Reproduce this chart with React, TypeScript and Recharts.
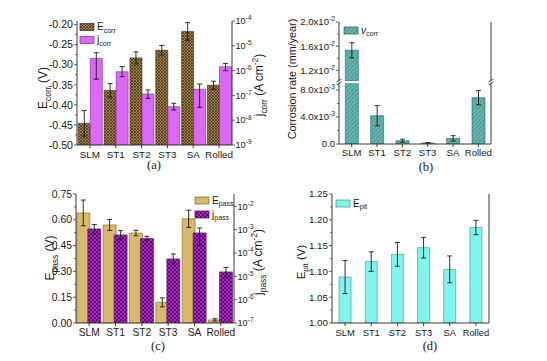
import React from 'react';
import { ComposedChart, Bar, XAxis, YAxis, ErrorBar } from 'recharts';

const SANS = '"Liberation Sans", Arial, Helvetica, sans-serif';
const SERIF = '"Liberation Serif", "Times New Roman", Times, serif';
const INK = '#1a1a1a';
const FRAME = '#383838';
const ERR = '#1a1a1a';

// ---------------- data ----------------
const categories = ['SLM', 'ST1', 'ST2', 'ST3', 'SA', 'Rolled'];

// (a) corrosion potential (V) and corrosion current density (A cm^-2)
const ecorr = [-0.446, -0.364, -0.283, -0.264, -0.217, -0.351];
const ecorrErr = [0.032, 0.017, 0.015, 0.012, 0.022, 0.01];
const jcorr = [3.1e-6, 9.0e-7, 1.14e-7, 3.5e-8, 1.76e-7, 1.44e-6];
const jcorrErrLow = [2.65e-6, 3.3e-7, 3.8e-8, 9.2e-9, 1.43e-7, 4.5e-7];
const jcorrErrHigh = [2.15e-6, 5.4e-7, 5.1e-8, 1.3e-8, 1.12e-7, 5.1e-7];

// (b) corrosion rate (mm/year)
const vcorr = [1.533e-2, 4.19e-3, 4.9e-4, 1.5e-4, 8.3e-4, 6.86e-3];
const vcorrErr = [1.25e-3, 1.5e-3, 2.2e-4, 5e-5, 4e-4, 1.05e-3];

// (c) passivation potential (V) and passivation current density (A cm^-2)
const epass = [0.64, 0.57, 0.523, 0.12, 0.606, 0.018];
const epassErr = [0.075, 0.032, 0.016, 0.026, 0.05, 0.007];
const jpass = [1.08e-3, 6.0e-4, 4.15e-4, 5.6e-5, 7.3e-4, 1.55e-5];
const jpassErrLow = [4.2e-4, 2.35e-4, 7.5e-5, 2.2e-5, 5.2e-4, 6.4e-6];
const jpassErrHigh = [5.8e-4, 3.15e-4, 1.05e-4, 3.5e-5, 4.6e-4, 8.8e-6];

// (d) pitting potential (V)
const epit = [1.089, 1.119, 1.133, 1.146, 1.104, 1.185];
const epitErr = [0.032, 0.019, 0.023, 0.02, 0.026, 0.014];

// ---------------- ticks / ranges ----------------
const ecorrTicks = [-0.5, -0.45, -0.4, -0.35, -0.3, -0.25, -0.2];
const jcorrTicks = [1e-9, 1e-8, 1e-7, 1e-6, 1e-5, 1e-4];
const vcorrLowTicks = [0, 4e-3, 8e-3];
const vcorrHighTicks = [1.2e-2, 1.6e-2, 2.0e-2];
const epassTicks = [0, 0.15, 0.3, 0.45, 0.6, 0.75];
const jpassTicks = [1e-7, 1e-6, 1e-5, 1e-4, 1e-3, 1e-2];
const epitTicks = [1.0, 1.05, 1.1, 1.15, 1.2, 1.25];

const ECORR_RANGE: [number, number] = [-0.5, -0.191];
const JCORR_RANGE: [number, number] = [1e-9, 1e-4];
const VCORR_LOW_RANGE: [number, number] = [0, 9.04e-3];
const VCORR_HIGH_RANGE: [number, number] = [1.025e-2, 2.0e-2];
const EPASS_RANGE: [number, number] = [0, 0.75];
const JPASS_RANGE: [number, number] = [1e-7, 3.4e-2];
const EPIT_RANGE: [number, number] = [1.0, 1.25];

const TICK_LEN = 3;
const TICK_GAP = 1;

const mid = (t: number[]) => t.slice(1).map((v, i) => (v + t[i]) / 2);
const withMinor = (t: number[]) => [...t, ...mid(t)].sort((a, b) => a - b);
const isIn = (arr: number[], v: number) =>
  arr.some((m) => Math.abs(m - v) <= 1e-12 + Math.abs(m) * 1e-6);

type Fmt = (v: number, size: number) => React.ReactNode;
const fixed2: Fmt = (v) => v.toFixed(2);
const pow10: Fmt = (v, s) => (
  <>
    10
    <tspan fontSize={s * 0.7} dy={-s * 0.42}>
      {Math.round(Math.log10(v))}
    </tspan>
  </>
);
const sci: Fmt = (v, s) => {
  if (v === 0) return '0.0';
  const e = Math.floor(Math.log10(v) + 1e-9);
  const m = v / Math.pow(10, e);
  return (
    <>
      {m.toFixed(1)}x10
      <tspan fontSize={s * 0.7} dy={-s * 0.42}>
        {e}
      </tspan>
    </>
  );
};

function yTick(side: 'left' | 'right', major: number[], fmt: Fmt, size: number, gap: number = TICK_GAP) {
  return (props: any) => {
    const { x, y, payload } = props;
    const v = Number(payload.value);
    const maj = isIn(major, v);
    const sgn = side === 'left' ? 1 : -1;
    const ax = x + sgn * (TICK_LEN + gap);
    const len = maj ? TICK_LEN : TICK_LEN * 0.6;
    return (
      <g>
        <line x1={ax} y1={y} x2={ax - sgn * len} y2={y} stroke={FRAME} strokeWidth={0.8} />
        {maj ? (
          <text
            x={x}
            y={y}
            dy={size * 0.35}
            textAnchor={side === 'left' ? 'end' : 'start'}
            fontSize={size}
            fontFamily={SANS}
            fill={INK}
          >
            {fmt(v, size)}
          </text>
        ) : null}
      </g>
    );
  };
}

const axisLine = { stroke: FRAME, strokeWidth: 1 };
const xTickStyle = (s: number) => ({ fontSize: s, fontFamily: SANS, fill: INK });

// ---------------- panels ----------------
function PanelA() {
  const data = categories.map((cat, i) => ({
    cat,
    ecorr: [ECORR_RANGE[0], ecorr[i]],
    ecorrErr: ecorrErr[i],
    jcorr: jcorr[i],
    jcorrErr: [jcorrErrLow[i], jcorrErrHigh[i]],
  }));
  return (
    <div style={{ position: 'absolute', left: 0, top: 0 }}>
      <ComposedChart width={270} height={180} data={data} margin={{ top: 21, right: 0, bottom: 0, left: 0 }} barCategoryGap="5%" barGap={0}>
        <XAxis xAxisId="x" dataKey="cat" height={35} interval={0} tickSize={3} tickMargin={3} axisLine={axisLine} tickLine={{ stroke: FRAME }} tick={xTickStyle(9.9)} />
        <XAxis xAxisId="t" dataKey="cat" orientation="top" height={0} tick={false} tickLine={false} axisLine={axisLine} />
        <YAxis yAxisId="l" type="number" width={77} domain={ECORR_RANGE} allowDataOverflow ticks={withMinor(ecorrTicks)} interval={0} tickSize={TICK_LEN} tickMargin={TICK_GAP} tickLine={false} axisLine={axisLine} tick={yTick('left', ecorrTicks, fixed2, 10.6)} />
        <YAxis yAxisId="r" orientation="right" type="number" scale="log" width={38} domain={JCORR_RANGE} allowDataOverflow ticks={jcorrTicks} interval={0} tickSize={TICK_LEN} tickMargin={0.5} tickLine={false} axisLine={axisLine} tick={yTick('right', jcorrTicks, pow10, 9.2, 0.5)} />
        <Bar xAxisId="x" yAxisId="l" dataKey="ecorr" fill="url(#pat-brown)" stroke="#3a2a10" strokeWidth={0.6} isAnimationActive={false}>
          <ErrorBar dataKey="ecorrErr" width={2.5} stroke={ERR} strokeWidth={0.9} isAnimationActive={false} />
        </Bar>
        <Bar xAxisId="x" yAxisId="r" dataKey="jcorr" fill="#db69f5" stroke="#7a2a8a" strokeWidth={0.6} isAnimationActive={false}>
          <ErrorBar dataKey="jcorrErr" width={2.5} stroke={ERR} strokeWidth={0.9} isAnimationActive={false} />
        </Bar>
      </ComposedChart>
    </div>
  );
}

function PanelB() {
  const upper = categories.map((cat, i) => ({
    cat,
    v: vcorr[i] > VCORR_HIGH_RANGE[0] ? vcorr[i] : null,
    err: vcorr[i] > VCORR_HIGH_RANGE[0] ? vcorrErr[i] : null,
  }));
  const lower = categories.map((cat, i) => ({
    cat,
    v: vcorr[i],
    err: vcorr[i] <= VCORR_LOW_RANGE[1] ? vcorrErr[i] : null,
  }));
  const barProps = { fill: 'url(#pat-teal)', stroke: '#2a5f5a', strokeWidth: 0.6 };
  return (
    <>
      <div style={{ position: 'absolute', left: 270, top: 0 }}>
        <ComposedChart width={277} height={81} data={upper} margin={{ top: 22, right: 0, bottom: 0, left: 0 }} barCategoryGap="25%">
          <XAxis xAxisId="x" dataKey="cat" orientation="top" height={0} tick={false} tickLine={false} axisLine={axisLine} />
          <YAxis yAxisId="l" type="number" width={69} domain={VCORR_HIGH_RANGE} allowDataOverflow ticks={[...vcorrHighTicks, ...mid(vcorrHighTicks)].sort((a, b) => a - b)} interval={0} tickSize={TICK_LEN} tickMargin={TICK_GAP} tickLine={false} axisLine={axisLine} tick={yTick('left', vcorrHighTicks, sci, 9.6)} />
          <YAxis yAxisId="rf" orientation="right" type="number" width={56} domain={[0, 1]} tick={false} tickLine={false} axisLine={axisLine} />
          <Bar xAxisId="x" yAxisId="l" dataKey="v" {...barProps} isAnimationActive={false}>
            <ErrorBar dataKey="err" width={2.5} stroke={ERR} strokeWidth={0.9} isAnimationActive={false} />
          </Bar>
        </ComposedChart>
      </div>
      <div style={{ position: 'absolute', left: 270, top: 83 }}>
        <ComposedChart width={277} height={97} data={lower} margin={{ top: 0, right: 0, bottom: 0, left: 0 }} barCategoryGap="25%">
          <XAxis xAxisId="x" dataKey="cat" height={36} interval={0} tickSize={3} tickMargin={2} axisLine={axisLine} tickLine={{ stroke: FRAME }} tick={xTickStyle(9.6)} />
          <YAxis yAxisId="l" type="number" width={69} domain={VCORR_LOW_RANGE} allowDataOverflow ticks={withMinor(vcorrLowTicks)} interval={0} tickSize={TICK_LEN} tickMargin={TICK_GAP} tickLine={false} axisLine={axisLine} tick={yTick('left', vcorrLowTicks, sci, 9.6)} />
          <YAxis yAxisId="rf" orientation="right" type="number" width={56} domain={[0, 1]} tick={false} tickLine={false} axisLine={axisLine} />
          <Bar xAxisId="x" yAxisId="l" dataKey="v" {...barProps} isAnimationActive={false}>
            <ErrorBar dataKey="err" width={2.5} stroke={ERR} strokeWidth={0.9} isAnimationActive={false} />
          </Bar>
        </ComposedChart>
      </div>
    </>
  );
}

function PanelC() {
  const data = categories.map((cat, i) => ({
    cat,
    epass: epass[i],
    epassErr: epassErr[i],
    jpass: jpass[i],
    jpassErr: [jpassErrLow[i], jpassErrHigh[i]],
  }));
  return (
    <div style={{ position: 'absolute', left: 0, top: 175 }}>
      <ComposedChart width={270} height={186} data={data} margin={{ top: 19, right: 0, bottom: 0, left: 0 }} barCategoryGap="3%" barGap={-2}>
        <XAxis xAxisId="x" dataKey="cat" height={38} interval={0} tickSize={3} tickMargin={3} axisLine={axisLine} tickLine={{ stroke: FRAME }} tick={xTickStyle(10.2)} />
        <XAxis xAxisId="t" dataKey="cat" orientation="top" height={0} tick={false} tickLine={false} axisLine={axisLine} />
        <YAxis yAxisId="l" type="number" width={76} domain={EPASS_RANGE} allowDataOverflow ticks={withMinor(epassTicks)} interval={0} tickSize={TICK_LEN} tickMargin={TICK_GAP} tickLine={false} axisLine={axisLine} tick={yTick('left', epassTicks, fixed2, 10.4)} />
        <YAxis yAxisId="r" orientation="right" type="number" scale="log" width={36} domain={JPASS_RANGE} allowDataOverflow ticks={jpassTicks} interval={0} tickSize={TICK_LEN} tickMargin={0.5} tickLine={false} axisLine={axisLine} tick={yTick('right', jpassTicks, pow10, 9.2, 0.5)} />
        <Bar xAxisId="x" yAxisId="l" dataKey="epass" fill="#d8bb6a" stroke="#7a6428" strokeWidth={0.6} isAnimationActive={false}>
          <ErrorBar dataKey="epassErr" width={2.5} stroke={ERR} strokeWidth={0.9} isAnimationActive={false} />
        </Bar>
        <Bar xAxisId="x" yAxisId="r" dataKey="jpass" fill="url(#pat-purple)" stroke="#4a0a5a" strokeWidth={0.6} isAnimationActive={false}>
          <ErrorBar dataKey="jpassErr" width={2.5} stroke={ERR} strokeWidth={0.9} isAnimationActive={false} />
        </Bar>
      </ComposedChart>
    </div>
  );
}

function PanelD() {
  const data = categories.map((cat, i) => ({ cat, epit: epit[i], epitErr: epitErr[i] }));
  return (
    <div style={{ position: 'absolute', left: 270, top: 175 }}>
      <ComposedChart width={277} height={186} data={data} margin={{ top: 19, right: 0, bottom: 0, left: 0 }} barCategoryGap="27%">
        <XAxis xAxisId="x" dataKey="cat" height={38} interval={0} tickSize={3} tickMargin={3} axisLine={axisLine} tickLine={{ stroke: FRAME }} tick={xTickStyle(9.4)} />
        <XAxis xAxisId="t" dataKey="cat" orientation="top" height={0} tick={false} tickLine={false} axisLine={axisLine} />
        <YAxis yAxisId="l" type="number" width={62} domain={EPIT_RANGE} allowDataOverflow ticks={withMinor(epitTicks)} interval={0} tickSize={TICK_LEN} tickMargin={TICK_GAP} tickLine={false} axisLine={axisLine} tick={yTick('left', epitTicks, fixed2, 9.8)} />
        <YAxis yAxisId="rf" orientation="right" type="number" width={58} domain={[0, 1]} tick={false} tickLine={false} axisLine={axisLine} />
        <Bar xAxisId="x" yAxisId="l" dataKey="epit" fill="#80f5ee" stroke="#3a8f8a" strokeWidth={0.6} isAnimationActive={false}>
          <ErrorBar dataKey="epitErr" width={2.5} stroke={ERR} strokeWidth={0.9} isAnimationActive={false} />
        </Bar>
      </ComposedChart>
    </div>
  );
}

// ---------------- overlay: titles, legends, captions ----------------
function VTitle({ cx, cy, size, children }: { cx: number; cy: number; size: number; children: React.ReactNode }) {
  return (
    <text transform={`translate(${cx},${cy}) rotate(-90)`} y={size * 0.35} textAnchor="middle" fontSize={size} fontFamily={SANS} fill={INK}>
      {children}
    </text>
  );
}

const Sub = ({ s, t }: { s: number; t: string }) => (
  <tspan fontSize={s * 0.7} dy={s * 0.28}>
    {t}
  </tspan>
);

function LegendItem({ x, y, fill, stroke, children }: { x: number; y: number; fill: string; stroke: string; children: React.ReactNode }) {
  return (
    <g>
      <rect x={x} y={y} width={14} height={7} fill={fill} stroke={stroke} strokeWidth={0.7} />
      <text x={x + 17} y={y + 6.5} fontSize={10} fontFamily={SANS} fill={INK}>
        {children}
      </text>
    </g>
  );
}

function Overlay() {
  const t = 12;
  return (
    <svg width={547} height={361} style={{ position: 'absolute', left: 0, top: 0, pointerEvents: 'none' }}>
      <defs>
        <pattern id="pat-brown" patternUnits="userSpaceOnUse" width="3" height="3">
          <rect width="3" height="3" fill="#a3834d" />
          <path d="M0,0 L3,3 M3,0 L0,3" stroke="#3f2c12" strokeWidth="0.7" />
        </pattern>
        <pattern id="pat-teal" patternUnits="userSpaceOnUse" width="3" height="3" patternTransform="rotate(45)">
          <rect width="3" height="3" fill="#62b8b0" />
          <line x1="0" y1="0" x2="0" y2="3" stroke="#2f7670" strokeWidth="1" />
        </pattern>
        <pattern id="pat-purple" patternUnits="userSpaceOnUse" width="4" height="4">
          <rect width="4" height="4" fill="#a32cbb" />
          <rect width="2" height="2" fill="#66087a" />
          <rect x="2" y="2" width="2" height="2" fill="#66087a" />
        </pattern>
      </defs>

      {/* axis titles */}
      <VTitle cx={43} cy={88} size={t}>
        E<Sub s={t} t="corr" />
        <tspan dy={-t * 0.28}>{' (V)'}</tspan>
      </VTitle>
      <VTitle cx={259} cy={85} size={t}>
        j<Sub s={t} t="corr" />
        <tspan dy={-t * 0.28}>{' (A cm'}</tspan>
        <tspan fontSize={t * 0.7} dy={-t * 0.4}>-2</tspan>
        <tspan dy={t * 0.4}>)</tspan>
      </VTitle>
      <VTitle cx={292} cy={79} size={10.8}>
        Corrosion rate (mm/year)
      </VTitle>
      <VTitle cx={50} cy={258} size={t}>
        E<Sub s={t} t="pass" />
        <tspan dy={-t * 0.28}>{' (V)'}</tspan>
      </VTitle>
      <VTitle cx={258} cy={262} size={t}>
        j<Sub s={t} t="pass" />
        <tspan dy={-t * 0.28}>{' (A cm'}</tspan>
        <tspan fontSize={t * 0.7} dy={-t * 0.4}>-2</tspan>
        <tspan dy={t * 0.4}>)</tspan>
      </VTitle>
      <VTitle cx={301} cy={262} size={11.5}>
        E<Sub s={11.5} t="pit" />
        <tspan dy={-11.5 * 0.28}>{' (V)'}</tspan>
      </VTitle>

      {/* legends */}
      <LegendItem x={80} y={23.5} fill="url(#pat-brown)" stroke="#3a2a10">
        E<Sub s={10} t="corr" />
      </LegendItem>
      <LegendItem x={80} y={36.5} fill="#db69f5" stroke="#7a2a8a">
        j<Sub s={10} t="corr" />
      </LegendItem>
      <LegendItem x={344} y={27} fill="url(#pat-teal)" stroke="#2a5f5a">
        <tspan fontStyle="italic">v</tspan>
        <Sub s={10} t="corr" />
      </LegendItem>
      <LegendItem x={195} y={197} fill="#d8bb6a" stroke="#7a6428">
        E<Sub s={10} t="pass" />
      </LegendItem>
      <LegendItem x={195} y={211} fill="url(#pat-purple)" stroke="#4a0a5a">
        j<Sub s={10} t="pass" />
      </LegendItem>
      <LegendItem x={336} y={200} fill="#80f5ee" stroke="#3a8f8a">
        E<Sub s={10} t="pit" />
      </LegendItem>

      {/* axis break marks for (b) */}
      {[339, 491].map((x) => (
        <g key={x} stroke={FRAME} strokeWidth={0.9}>
          <line x1={x - 2.5} y1={82} x2={x + 2.5} y2={79} />
          <line x1={x - 2.5} y1={85} x2={x + 2.5} y2={82} />
        </g>
      ))}

      {/* captions */}
      <text x={154} y={169} textAnchor="middle" fontSize={12.5} fontFamily={SERIF} fill={INK}>(a)</text>
      <text x={426} y={171} textAnchor="middle" fontSize={12.5} fontFamily={SERIF} fill={INK}>(b)</text>
      <text x={158} y={350} textAnchor="middle" fontSize={12.5} fontFamily={SERIF} fill={INK}>(c)</text>
      <text x={430} y={350} textAnchor="middle" fontSize={12.5} fontFamily={SERIF} fill={INK}>(d)</text>
    </svg>
  );
}

export default function App() {
  return (
    <div style={{ position: 'fixed', left: 0, top: 0, width: 547, height: 361, background: '#fff', overflow: 'hidden' }}>
      <PanelA />
      <PanelB />
      <PanelC />
      <PanelD />
      <Overlay />
    </div>
  );
}
